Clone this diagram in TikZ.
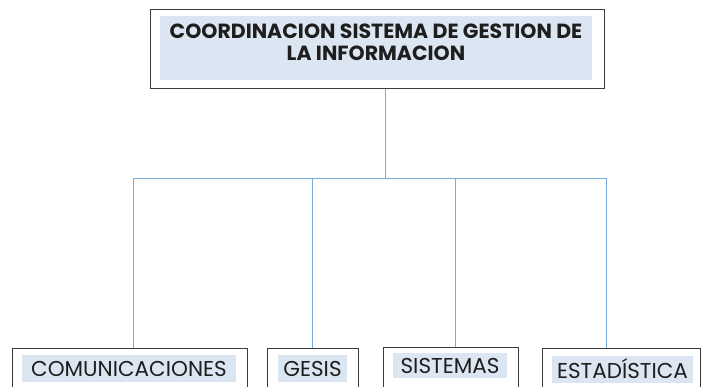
\documentclass[tikz,border=0pt]{standalone}
\usepackage{fontspec}
\setmainfont{Poppins}
\definecolor{linkblue}{RGB}{120,170,222}
\definecolor{paleblue}{RGB}{220,230,242}
\definecolor{boxgray}{RGB}{60,60,60}
\definecolor{textgray}{RGB}{30,30,30}
\tikzset{
  outerbox/.style={draw=boxgray, line width=1.3pt, anchor=north west, inner sep=0pt},
  fillbox/.style={fill=paleblue, text=textgray, inner sep=0pt, align=center},
  link/.style={draw=linkblue, line width=1pt},
  toptext/.style={font=\fontsize{20.5}{22}\selectfont\bfseries, text=textgray, align=center, inner sep=0pt},
  lowtext/.style={font=\fontsize{21.5}{22}\selectfont}
}
\begin{document}
\begin{tikzpicture}[x=1pt,y=-1pt]
\useasboundingbox (0,0) rectangle (702,386);
\clip (0,0) rectangle (702,386);
% top box
\node[outerbox, minimum width=454pt, minimum height=79pt] (top) at (150,9) {};
\node[fillbox, minimum width=432pt, minimum height=64pt] (topfill) at (376,48) {};
\node[toptext] (toplabel) at (376,42) {COORDINACION SISTEMA DE GESTION DE\\LA INFORMACION};
% bottom boxes
\node[outerbox, minimum width=235pt, minimum height=60pt] (com) at (12,348) {};
\node[outerbox, minimum width=91pt, minimum height=60pt] (ges) at (267,348) {};
\node[outerbox, minimum width=135pt, minimum height=60pt] (sis) at (383,347) {};
\node[outerbox, minimum width=158pt, minimum height=60pt] (est) at (542,348) {};
\node[fillbox, lowtext, minimum width=214pt, minimum height=27pt] (comlabel) at (129,368.5) {COMUNICACIONES};
\node[fillbox, lowtext, minimum width=69pt, minimum height=27pt] (geslabel) at (312.5,368.5) {GESIS};
\node[fillbox, lowtext, minimum width=114pt, minimum height=25pt] (sislabel) at (450,365.5) {SISTEMAS};
\node[fillbox, lowtext, minimum width=141pt, minimum height=27pt] (estlabel) at (622.5,369) {ESTADÍSTICA};
% bus
\coordinate (hub) at (385,178);
\coordinate (b1) at (133,178);
\coordinate (b2) at (312,178);
\coordinate (b3) at (455,178);
\coordinate (b4) at (606,178);
\draw[link] (top.south -| hub) -- (hub);
\draw[link] (b1) -- (b4);
\draw[link] (b1) -- (b1 |- com.north);
\draw[link] (b2) -- (b2 |- ges.north);
\draw[link] (b3) -- (b3 |- sis.north);
\draw[link] (b4) -- (b4 |- est.north);
\end{tikzpicture}
\end{document}
